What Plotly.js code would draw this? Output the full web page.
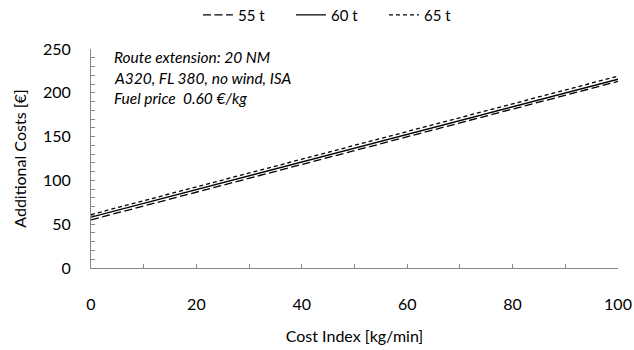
<!DOCTYPE html>
<html>
<head>
<meta charset="utf-8">
<script src="https://cdn.plot.ly/plotly-3.0.1.min.js"></script>
<style>html,body{margin:0;padding:0;background:#fff;}#chart{width:634px;height:350px;}</style>
</head>
<body>
<div id="chart"></div>
<script>
const costIndex = [0, 100];
const cost55 = [55, 213];
const cost60 = [58, 215.5];
const cost65 = [61, 219];
const seriesNames = ['55 t', '60 t', '65 t'];
const notes = ['Route extension: 20 NM', 'A320, FL 380, no wind, ISA', 'Fuel price  0.60 €/kg'];

const FONT = 'Lato, "Open Sans", sans-serif';
const traces = [
  {x: costIndex, y: cost55, name: seriesNames[0], mode: 'lines', line: {color: '#000', width: 1.3, dash: '8px,3.5px'}},
  {x: costIndex, y: cost60, name: seriesNames[1], mode: 'lines', line: {color: '#000', width: 1.3}},
  {x: costIndex, y: cost65, name: seriesNames[2], mode: 'lines', line: {color: '#000', width: 1.3, dash: '4px,3px'}}
];
const axisCommon = {
  showgrid: false, zeroline: false, showline: true, linecolor: '#888', linewidth: 1, automargin: false,
  ticks: 'inside', ticklen: 4, tickcolor: '#888', tickfont: {family: FONT, size: 16, color: '#000'}
};
const layout = {
  width: 634, height: 350,
  margin: {l: 91, r: 16, t: 49, b: 82, autoexpand: false},
  paper_bgcolor: '#fff', plot_bgcolor: '#fff',
  font: {family: FONT, color: '#000'},
  showlegend: true,
  legend: {orientation: 'h', x: 0.203, xanchor: 'left', y: 1.155, yanchor: 'middle', yref: 'paper',
           font: {family: FONT, size: 15}, itemwidth: 30, entrywidth: 48, entrywidthmode: 'pixels',
           bgcolor: 'rgba(0,0,0,0)'},
  xaxis: Object.assign({}, axisCommon, {
    range: [0, 100], dtick: 20, tick0: 0, ticklabelstandoff: 22,
    minor: {dtick: 10, ticks: 'inside', ticklen: 4, tickcolor: '#888'},
    title: {text: 'Cost Index [kg/min]', font: {family: FONT, size: 16}, standoff: 18}
  }),
  yaxis: Object.assign({}, axisCommon, {
    range: [0, 250], dtick: 50, tick0: 0, ticklabelstandoff: 16,
    minor: {dtick: 10, ticks: 'inside', ticklen: 4, tickcolor: '#888'},
    title: {text: 'Additional Costs [€]', font: {family: FONT, size: 16}, standoff: 12}
  }),
  annotations: notes.map((t, i) => ({
    text: '<i>' + t + '</i>', xref: 'paper', yref: 'paper', x: 0.04, y: 0.962 - i * 0.094,
    xanchor: 'left', yanchor: 'middle', showarrow: false, font: {family: FONT, size: 15.5, color: '#000'}
  }))
};
Plotly.newPlot('chart', traces, layout, {displayModeBar: false, staticPlot: true});
</script>
</body>
</html>
